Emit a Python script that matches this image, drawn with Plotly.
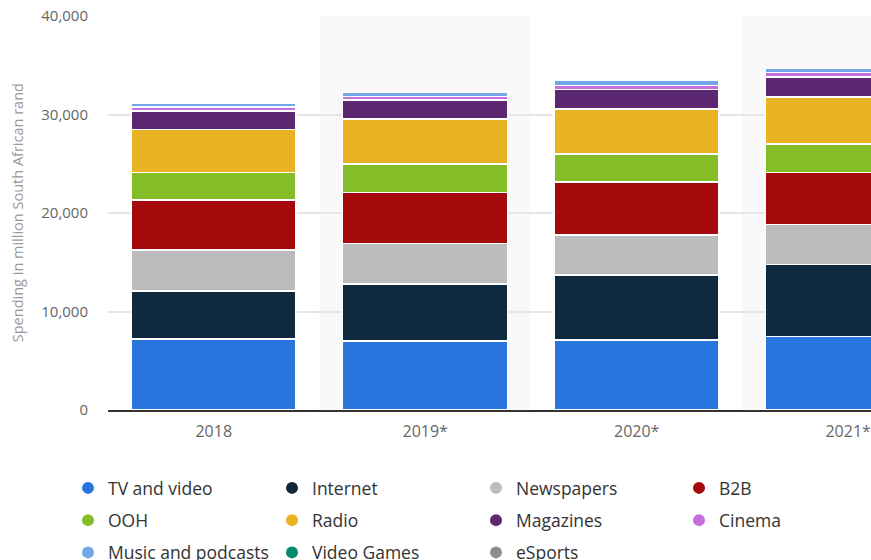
import plotly.graph_objects as go

# Media spending by segment in South Africa (million rand)
years = ["2018", "2019*", "2020*", "2021*"]

tv_video = [7200, 7000, 7100, 7450]
internet = [4900, 5800, 6600, 7300]
newspapers = [4160, 4100, 4060, 4060]
b2b = [5050, 5200, 5380, 5280]
ooh = [2810, 2850, 2840, 2910]
radio = [4370, 4600, 4570, 4800]
magazines = [1890, 1900, 2000, 2000]
cinema = [380, 400, 400, 450]
music_podcasts = [360, 400, 500, 450]
video_games = [None, None, None, None]
esports = [None, None, None, None]

series = [
    ("TV and video", tv_video, "#2876dd"),
    ("Internet", internet, "#0f2a3f"),
    ("Newspapers", newspapers, "#bcbcbc"),
    ("B2B", b2b, "#a40a0b"),
    ("OOH", ooh, "#84bd27"),
    ("Radio", radio, "#ebb224"),
    ("Magazines", magazines, "#5c2771"),
    ("Cinema", cinema, "#c86fdf"),
    ("Music and podcasts", music_podcasts, "#73a6e6"),
    ("Video Games", video_games, "#06896f"),
    ("eSports", esports, "#8e8e8e"),
]

y_ticks = [0, 10000, 20000, 30000, 40000]

fig = go.Figure()

for name, vals, color in series:
    fig.add_trace(go.Bar(
        x=years, y=vals, name=name,
        marker=dict(color=color, line=dict(color="#ffffff", width=1.5)),
        width=0.78, showlegend=False,
    ))

# circular legend keys laid out in four columns (read row by row)
legend_cols = ["legend", "legend2", "legend3", "legend4"]
for i, (name, vals, color) in enumerate(series):
    fig.add_trace(go.Scatter(
        x=[None], y=[None], mode="markers", name=name,
        marker=dict(symbol="circle", size=16, color=color),
        legend=legend_cols[i % 4], legendgroup=name,
    ))

# shaded background on alternate year columns
for i in range(len(years)):
    if i % 2 == 1:
        fig.add_shape(type="rect", xref="x", yref="y",
                      x0=i - 0.5, x1=i + 0.5, y0=0, y1=40000,
                      fillcolor="#f9f9f9", line_width=0, layer="below")

legend_font = dict(family="Open Sans", size=17.5, color="#333333")
col_x = [68, 272, 476, 679]
legend_common = dict(orientation="v", xref="container", yref="container",
                     y=1 - 470 / 560, xanchor="left", yanchor="top",
                     font=legend_font, bgcolor="rgba(0,0,0,0)",
                     itemsizing="constant", traceorder="grouped",
                     tracegroupgap=6.5)

fig.update_layout(
    width=871, height=560,
    margin=dict(l=108, r=0, t=16, b=150, autoexpand=False),
    paper_bgcolor="#ffffff", plot_bgcolor="#ffffff",
    barmode="stack", bargap=0.22,
    font=dict(family="Open Sans", color="#666666"),
    legend=dict(**legend_common, x=col_x[0] / 871),
    legend2=dict(**legend_common, x=col_x[1] / 871),
    legend3=dict(**legend_common, x=col_x[2] / 871),
    legend4=dict(**legend_common, x=col_x[3] / 871),
    xaxis=dict(
        range=[-0.5, 3.108], showline=True, linecolor="#333333", linewidth=1.5,
        showgrid=False, ticks="", tickfont=dict(size=16, color="#666666"),
        ticklabelstandoff=6, fixedrange=True, automargin=False,
    ),
    yaxis=dict(
        range=[0, 40000], tickvals=y_ticks, tickformat=",",
        showgrid=True, gridcolor="#e6e6e6", gridwidth=1.5,
        zeroline=False, showline=False, ticks="", automargin=False,
        tickfont=dict(size=15, color="#666666"), ticklabelstandoff=19,
    ),
    annotations=[dict(
        text="Spending in million South African rand",
        xref="paper", yref="paper", x=-0.119, y=0.5,
        xanchor="center", yanchor="middle", textangle=-90, showarrow=False,
        font=dict(family="Open Sans", size=14.5, color="#999999"),
    )],
)

fig.write_html("out.html")
